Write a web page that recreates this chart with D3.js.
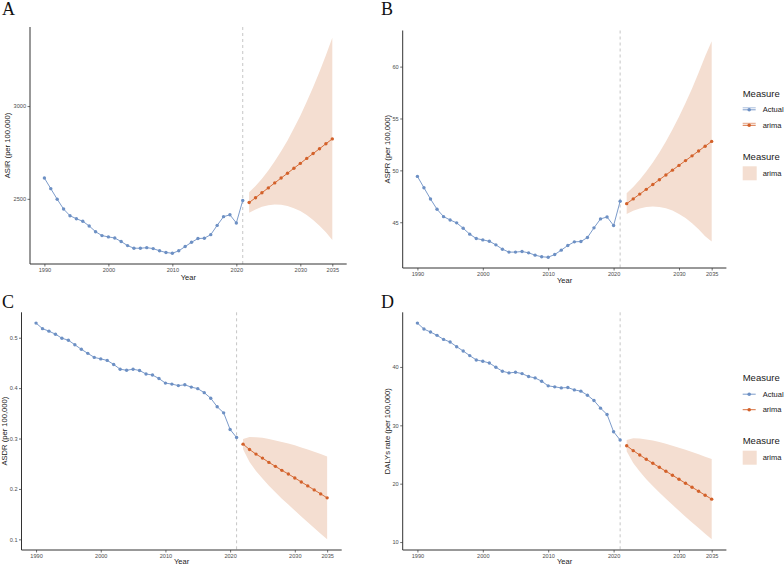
<!DOCTYPE html>
<html>
<head>
<meta charset="utf-8">
<script src="https://cdn.jsdelivr.net/npm/d3@7"></script>
<style>
body { margin: 0; background: #fff; }
text { font-family: "Liberation Sans", Arial, sans-serif; }
</style>
</head>
<body>
<div id="chart"></div>
<script>
var years = [1990, 1991, 1992, 1993, 1994, 1995, 1996, 1997, 1998, 1999,
             2000, 2001, 2002, 2003, 2004, 2005, 2006, 2007, 2008, 2009,
             2010, 2011, 2012, 2013, 2014, 2015, 2016, 2017, 2018, 2019,
             2020, 2021];
var fyears = [2022, 2023, 2024, 2025, 2026, 2027, 2028, 2029, 2030, 2031,
              2032, 2033, 2034, 2035];
var xTicks = [1990, 2000, 2010, 2020, 2030, 2035];

// A - ASIR
var asirActual = [2612, 2555, 2498, 2445, 2409, 2393, 2379, 2354, 2323, 2302,
                  2295, 2289, 2270, 2248, 2234, 2234, 2237, 2232, 2220, 2211,
                  2207, 2220, 2243, 2266, 2286, 2288, 2307, 2357, 2404, 2414,
                  2370, 2491];
var asirArima = [2480, 2506, 2533, 2559, 2586, 2612, 2638, 2665, 2691, 2718, 2744, 2770, 2797, 2823];
var asirLower = [2425, 2443, 2457, 2465, 2469, 2468, 2461, 2450, 2434, 2413, 2386, 2355, 2320, 2278];
var asirUpper = [2535, 2569, 2609, 2653, 2703, 2756, 2815, 2880, 2948, 3023, 3102, 3185, 3274, 3368];
var asirTicks = [2500, 3000];

// B - ASPR
var asprActual = [49.42, 48.33, 47.24, 46.25, 45.54, 45.22, 44.94, 44.42, 43.85, 43.43,
                  43.30, 43.17, 42.82, 42.40, 42.12, 42.12, 42.18, 42.05, 41.83, 41.67,
                  41.63, 41.89, 42.31, 42.76, 43.11, 43.14, 43.53, 44.46, 45.32, 45.51,
                  44.68, 47.02];
var asprArima = [46.79, 47.25, 47.71, 48.17, 48.64, 49.10, 49.56, 50.02, 50.48, 50.94, 51.40, 51.87, 52.33, 52.79];
var asprLower = [45.79, 46.11, 46.33, 46.47, 46.52, 46.48, 46.34, 46.12, 45.80, 45.40, 44.90, 44.33, 43.65, 43.14];
var asprUpper = [47.79, 48.40, 49.09, 49.88, 50.76, 51.73, 52.78, 53.93, 55.16, 56.49, 57.90, 59.42, 61.01, 62.44];
var asprTicks = [45, 50, 55, 60];

// C - ASDR
var asdrActual = [0.529, 0.518, 0.513, 0.507, 0.499, 0.495, 0.486, 0.477, 0.469, 0.461,
                  0.458, 0.455, 0.447, 0.4375, 0.4355, 0.4375, 0.435, 0.428, 0.426, 0.419,
                  0.410, 0.408, 0.405, 0.4066, 0.402, 0.399, 0.391, 0.380, 0.363, 0.351,
                  0.318, 0.302];
var asdrArima = [0.2889, 0.2783, 0.2691, 0.2612, 0.2527, 0.2448, 0.2369, 0.2297, 0.2218, 0.2139, 0.2060, 0.1981, 0.1902, 0.1823];
var asdrLower = [0.2789, 0.2536, 0.2356, 0.2208, 0.2064, 0.1933, 0.1807, 0.1691, 0.1571, 0.1454, 0.1339, 0.1225, 0.1113, 0.1003];
var asdrUpper = [0.2989, 0.3030, 0.3026, 0.3016, 0.2990, 0.2963, 0.2931, 0.2903, 0.2865, 0.2824, 0.2781, 0.2737, 0.2691, 0.2643];
var asdrTicks = [0.1, 0.2, 0.3, 0.4, 0.5];

// D - DALYs
var dalyActual = [47.51, 46.49, 45.98, 45.41, 44.72, 44.27, 43.47, 42.73, 41.94, 41.20,
                  40.97, 40.68, 39.94, 39.26, 38.98, 39.09, 38.86, 38.35, 38.12, 37.55,
                  36.76, 36.59, 36.41, 36.47, 36.07, 35.85, 35.16, 34.25, 32.94, 31.86,
                  28.90, 27.48];
var dalyArima = [26.51, 25.66, 24.92, 24.18, 23.49, 22.81, 22.13, 21.45, 20.76, 20.08, 19.40, 18.71, 18.03, 17.35];
var dalyLower = [25.54, 23.55, 22.09, 20.78, 19.60, 18.48, 17.42, 16.38, 15.35, 14.35, 13.37, 12.39, 11.43, 10.49];
var dalyUpper = [27.48, 27.77, 27.75, 27.58, 27.38, 27.14, 26.84, 26.52, 26.17, 25.81, 25.43, 25.03, 24.63, 24.21];
var dalyTicks = [10, 20, 30, 40];

var colActual = "#6d90c4";
var colArima = "#d3612a";
var colRibbon = "#f4ded1";
var axisCol = "#333333";
var txtCol = "#1a1a1a";

var W = 784, H = 566;
var svg = d3.select("#chart").append("svg")
    .attr("width", W)
    .attr("height", H);

function drawPanel(p) {
    var all = p.actual.concat(p.lower, p.upper);
    var ext = d3.extent(all);
    var pad = (ext[1] - ext[0]) * 0.05;
    var x = d3.scaleLinear().domain([1987.75, 2037.25]).range([p.x0, p.x1]);
    var y = d3.scaleLinear().domain([ext[0] - pad, ext[1] + pad]).range([p.y1, p.y0]);

    var g = svg.append("g");

    var band = fyears.map(function(yr, i) {
        return {yr: yr, lo: p.lower[i], hi: p.upper[i]};
    });
    g.append("path")
        .datum(band)
        .attr("fill", colRibbon)
        .attr("d", d3.area()
            .x(function(d) { return x(d.yr); })
            .y0(function(d) { return y(d.lo); })
            .y1(function(d) { return y(d.hi); }));

    g.append("line")
        .attr("x1", x(2021)).attr("x2", x(2021))
        .attr("y1", p.y0).attr("y2", p.y1)
        .attr("stroke", "#b8b8b8")
        .attr("stroke-width", 0.8)
        .attr("stroke-dasharray", "3,3");

    var act = years.map(function(yr, i) { return [yr, p.actual[i]]; });
    var fc = fyears.map(function(yr, i) { return [yr, p.arima[i]]; });
    var line = d3.line()
        .x(function(d) { return x(d[0]); })
        .y(function(d) { return y(d[1]); });

    [[act, colActual], [fc, colArima]].forEach(function(s) {
        g.append("path")
            .datum(s[0])
            .attr("fill", "none")
            .attr("stroke", s[1])
            .attr("stroke-width", 0.9)
            .attr("d", line);
        g.selectAll(null)
            .data(s[0])
            .enter()
            .append("circle")
            .attr("cx", function(d) { return x(d[0]); })
            .attr("cy", function(d) { return y(d[1]); })
            .attr("r", 1.7)
            .attr("fill", s[1]);
    });

    var xa = g.append("g")
        .attr("transform", "translate(0," + p.y1 + ")")
        .call(d3.axisBottom(x).tickValues(xTicks).tickSize(2.5).tickPadding(1.5).tickFormat(d3.format("d")));
    var ya = g.append("g")
        .attr("transform", "translate(" + p.x0 + ",0)")
        .call(d3.axisLeft(y).tickValues(p.ticks).tickSize(2.5).tickPadding(1.5).tickFormat(p.fmt));
    [xa, ya].forEach(function(a) {
        a.select(".domain").remove();
        a.selectAll(".tick line").attr("stroke", axisCol).attr("stroke-width", 0.7);
        a.selectAll(".tick text")
            .style("fill", "#4d4d4d")
            .style("font-size", "5.6px")
            .style("font-family", "Liberation Sans, Arial, sans-serif");
    });
    g.append("line").attr("x1", p.x0).attr("x2", p.x1).attr("y1", p.y1).attr("y2", p.y1)
        .attr("stroke", axisCol).attr("stroke-width", 1);
    g.append("line").attr("x1", p.x0).attr("x2", p.x0).attr("y1", p.y0).attr("y2", p.y1)
        .attr("stroke", axisCol).attr("stroke-width", 1);

    g.append("text")
        .attr("x", (p.x0 + p.x1) / 2)
        .attr("y", p.y1 + p.xty)
        .attr("text-anchor", "middle")
        .style("font-size", "7.5px")
        .style("fill", txtCol)
        .text("Year");

    g.append("text")
        .attr("transform", "translate(" + p.ytx + "," + ((p.y0 + p.y1) / 2) + ") rotate(-90)")
        .attr("text-anchor", "middle")
        .attr("dy", "0.35em")
        .style("font-size", "7.6px")
        .style("fill", txtCol)
        .text(p.ylab);

    svg.append("text")
        .attr("x", p.lx)
        .attr("y", p.ly)
        .style("font-family", "Liberation Serif, Times New Roman, serif")
        .style("font-size", "18px")
        .style("fill", "#111")
        .text(p.letter);
}

function drawLegend(x0, y0, withBar) {
    var lg = svg.append("g").attr("transform", "translate(" + x0 + "," + y0 + ")");
    lg.append("text").attr("x", 0).attr("y", 0).attr("dy", "0.35em")
        .style("font-size", "9.5px").style("fill", txtCol).text("Measure");
    [["Actual", colActual], ["arima", colArima]].forEach(function(it, i) {
        var cy = 16.5 + i * 15.5;
        lg.append("line").attr("x1", 0).attr("x2", 13).attr("y1", cy).attr("y2", cy)
            .attr("stroke", it[1]).attr("stroke-width", 0.9);
        if (withBar) {
            lg.append("line").attr("x1", 0).attr("x2", 13).attr("y1", cy - 2).attr("y2", cy - 2)
                .attr("stroke", it[1]).attr("stroke-width", 0.6);
        }
        lg.append("circle").attr("cx", 6.5).attr("cy", cy).attr("r", 1.8).attr("fill", it[1]);
        lg.append("text").attr("x", 20).attr("y", cy).attr("dy", "0.35em")
            .style("font-size", "7.5px").style("fill", txtCol).text(it[0]);
    });
    lg.append("text").attr("x", 0).attr("y", 63).attr("dy", "0.35em")
        .style("font-size", "9.5px").style("fill", txtCol).text("Measure");
    lg.append("rect").attr("x", 0).attr("y", 73).attr("width", 14).attr("height", 14)
        .attr("fill", colRibbon);
    lg.append("text").attr("x", 20).attr("y", 80).attr("dy", "0.35em")
        .style("font-size", "7.5px").style("fill", txtCol).text("arima");
}

var fmtInt = d3.format("d");
var fmtDec = d3.format(".1f");

drawPanel({letter: "A", lx: 2, ly: 15, x0: 30, x1: 346.7, y0: 27, y1: 264, ytx: 7, xty: 15.5,
           actual: asirActual, arima: asirArima, lower: asirLower, upper: asirUpper,
           ticks: asirTicks, fmt: fmtInt, ylab: "ASIR (per 100,000)"});
drawPanel({letter: "B", lx: 381, ly: 15, x0: 402.7, x1: 726.4, y0: 30.5, y1: 268, ytx: 387, xty: 15,
           actual: asprActual, arima: asprArima, lower: asprLower, upper: asprUpper,
           ticks: asprTicks, fmt: fmtInt, ylab: "ASPR (per 100,000)"});
drawPanel({letter: "C", lx: 2, ly: 308, x0: 21.5, x1: 341.7, y0: 312.3, y1: 550, ytx: 4.5, xty: 14,
           actual: asdrActual, arima: asdrArima, lower: asdrLower, upper: asdrUpper,
           ticks: asdrTicks, fmt: fmtDec, ylab: "ASDR (per 100,000)"});
drawPanel({letter: "D", lx: 381, ly: 308, x0: 402.7, x1: 726.4, y0: 312.3, y1: 550, ytx: 387, xty: 14,
           actual: dalyActual, arima: dalyArima, lower: dalyLower, upper: dalyUpper,
           ticks: dalyTicks, fmt: fmtInt, ylab: "DALYs rate (per 100,000)"});

drawLegend(742.7, 93.3, true);
drawLegend(742.7, 377.7, false);
</script>
</body>
</html>
